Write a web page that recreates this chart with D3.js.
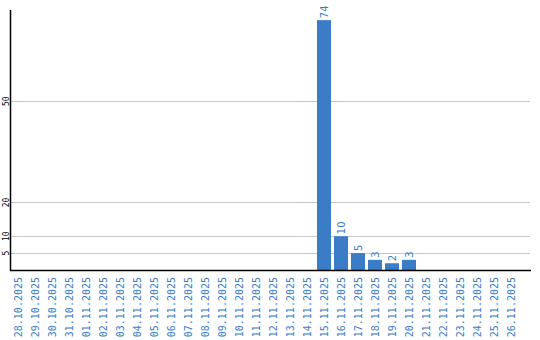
<!DOCTYPE html>
<html><head><meta charset="utf-8">
<script src="https://cdn.jsdelivr.net/npm/d3@7"></script>
<style>body{margin:0;background:#fff}svg{display:block}</style>
</head><body>
<svg id="c" width="540" height="340"></svg>
<script>
const categories = ["28.10.2025","29.10.2025","30.10.2025","31.10.2025","01.11.2025","02.11.2025","03.11.2025","04.11.2025","05.11.2025","06.11.2025","07.11.2025","08.11.2025","09.11.2025","10.11.2025","11.11.2025","12.11.2025","13.11.2025","14.11.2025","15.11.2025","16.11.2025","17.11.2025","18.11.2025","19.11.2025","20.11.2025","21.11.2025","22.11.2025","23.11.2025","24.11.2025","25.11.2025","26.11.2025"];
const values = [0,0,0,0,0,0,0,0,0,0,0,0,0,0,0,0,0,0,74,10,5,3,2,3,0,0,0,0,0,0];
const yTicks = [5,10,20,50];
const yMax = 77;

const svg = d3.select("#c");
const blue = "#3b7cc6";
const x = d3.scaleBand().domain(categories).range([11, 518]).paddingInner(3/17).paddingOuter(0);
const y = d3.scaleLinear().domain([0, yMax]).range([270, 10]);

// grid
svg.append("g").selectAll("line").data(yTicks).join("line")
  .attr("x1", 11).attr("x2", 530)
  .attr("y1", d => Math.round(y(d)) + 0.5).attr("y2", d => Math.round(y(d)) + 0.5)
  .attr("stroke", "#c8c8c8").attr("stroke-width", 1);

// y tick labels
svg.append("g").selectAll("text").data(yTicks).join("text")
  .attr("transform", d => `translate(8.5,${y(d)}) rotate(-90)`)
  .attr("text-anchor", "middle")
  .attr("font-family", "DejaVu Sans Mono").attr("font-size", 8).attr("fill", "#000")
  .text(d => d);

// bars
const data = categories.map((c, i) => ({c, v: values[i]})).filter(d => d.v > 0);
svg.append("g").selectAll("rect").data(data).join("rect")
  .attr("x", d => x(d.c)).attr("width", x.bandwidth())
  .attr("y", d => y(d.v)).attr("height", d => y(0) - y(d.v))
  .attr("fill", blue);

// value labels
svg.append("g").selectAll("text").data(data).join("text")
  .attr("transform", d => `translate(${x(d.c) + x.bandwidth()/2 + 3.5},${y(d.v) - 2}) rotate(-90)`)
  .attr("font-family", "DejaVu Sans").attr("font-size", 10).attr("fill", blue)
  .text(d => d.v);

// axes lines
svg.append("line").attr("x1", 10.5).attr("x2", 10.5).attr("y1", 10).attr("y2", 270.5)
  .attr("stroke", "#000").attr("stroke-width", 1.5);
svg.append("line").attr("x1", 10).attr("x2", 531).attr("y1", 270.5).attr("y2", 270.5)
  .attr("stroke", "#000").attr("stroke-width", 1.5);

// x labels
svg.append("g").selectAll("text").data(categories).join("text")
  .attr("transform", d => `translate(${x(d) + x.bandwidth()/2 + 4},277) rotate(-90)`)
  .attr("text-anchor", "end")
  .attr("font-family", "DejaVu Sans Mono").attr("font-size", 10).attr("fill", blue)
  .text(d => d);
</script>
</body></html>
